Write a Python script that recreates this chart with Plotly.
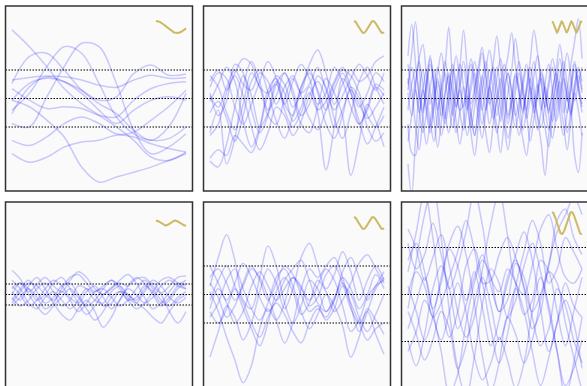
import numpy as np
import plotly.graph_objects as go
from plotly.subplots import make_subplots

# ---- data: sampled curves per panel (values in data units) ----
panel1 = [
    [2.41, 1.82, 1.12, 0.35, -0.18, -0.59, -1.0, -1.47, -2.06, -2.18, -1.88],
    [0.53, 1.47, 1.59, 1.0, 0.29, -0.18, -0.53, -1.12, -1.47, -1.0, 0.18],
    [-0.88, -1.0, 0.06, 1.12, 1.94, 1.82, 0.53, -1.12, -1.94, -1.71, -1.24],
    [-0.41, 0.18, 1.12, 1.82, 1.59, 0.53, -0.65, -1.24, -1.47, -1.41, -1.0],
    [-0.06, -0.29, -0.76, -1.35, -2.41, -2.94, -2.76, -2.59, -2.41, -2.18, -1.94],
    [-1.47, -1.65, -1.35, -0.88, -0.65, -0.88, -1.24, -1.18, -0.76, -0.29, 0.29],
    [-1.94, -2.24, -2.06, -1.71, -1.53, -1.47, -1.29, -1.35, -1.59, -1.76, -1.88],
    [0.65, 0.74, 0.79, 0.76, 0.65, 0.47, 0.39, 0.65, 0.82, 0.71, 0.74],
    [0.35, -0.06, -0.35, -0.29, -0.35, -0.59, -0.65, -0.06, 0.35, 0.53, 0.59],
    [-0.06, 0.53, 0.71, 0.59, 0.29, -0.06, 0.06, 0.88, 1.18, 0.82, 0.86],
    [-0.53, 0.41, 0.76, 0.59, 0.18, -0.41, -0.88, -0.41, -0.06, 0.06, -0.06],
]
panel2 = [
    [0.6, 1.0, 0.3, 0.9, 1.4, 1.2, 0.4, 0.2, 0.8, 0.5, -0.3, 0.2, 1.2, 1.7, 0.9, -0.2, 0.5, 1.0, 0.6, 0.8, 1.3, 1.5],
    [-2.2, -2.4, -1.6, -0.3, 0.8, 0.1, -1.0, -0.5, 0.6, 0.2, -0.8, -0.3, 0.4, -0.5, -2.5, -1.0, 0.7, 0.2, -0.9, -0.3, 0.5, 0.3],
    [-1.2, -0.4, -2.3, -1.4, 0.4, 1.3, 0.6, -0.4, 0.1, 0.9, 0.3, -0.6, -0.2, 0.8, 0.4, -0.7, -1.4, -0.5, 0.6, 1.1, 0.4, -0.2],
    [0.2, -0.6, -0.1, 1.2, 0.9, -0.4, -1.2, -0.6, 0.5, 0.9, 0.1, -0.9, -1.2, -0.3, 0.7, 0.2, -0.6, -2.7, -1.5, -0.2, -0.8, -1.7],
    [0.8, 0.4, -0.5, -1.1, -0.2, 0.9, 0.4, -0.6, -0.9, 0.0, 0.7, 0.2, 0.5, 1.1, 0.3, -0.4, 0.1, 0.7, 1.2, 0.8, 0.3, 0.9],
    [-0.1, 0.5, 1.1, 0.6, -0.8, -1.7, -1.0, 0.3, 0.7, -0.2, -0.6, 0.4, 1.0, 0.2, -0.9, -1.4, -0.6, 0.4, 0.0, -1.0, -1.5, -1.2],
    [0.4, 0.9, 0.7, -0.3, -0.9, -0.2, 0.6, 1.3, 0.7, -0.4, -1.0, -0.5, 0.2, -0.4, -0.1, 0.6, 1.1, 0.4, -0.3, 0.2, 0.9, 0.6],
    [-1.3, -0.9, 0.2, 0.8, 0.1, -1.0, -1.8, -1.2, -0.3, -0.6, -1.3, -0.8, 0.1, 0.6, 0.0, -1.0, -0.4, 0.3, -0.2, -0.7, -0.3, 0.2],
    [0.1, -0.3, 0.4, 1.0, 0.5, 0.3, 0.9, 0.6, -0.2, 0.4, 0.8, 0.1, -0.7, -1.1, -0.4, 0.5, 1.0, 0.8, 0.2, -0.6, -1.0, -0.6],
    [-0.5, -0.1, -0.7, -1.5, -0.6, 0.6, 1.0, 0.2, -0.8, -1.4, -0.6, 0.4, 0.9, 0.3, -0.4, 0.3, 0.9, 0.2, -0.8, -1.6, -1.0, -0.3],
    [-2.1, -1.8, -2.0, -1.3, -1.6, -1.9, -1.1, 0.1, 0.5, -0.2, 0.6, 1.2, 0.7, -0.2, 0.2, 1.1, 0.6, -0.3, -0.9, -0.4, 0.4, 0.1],
]
panel3 = [
    [0.5, 1.6, 2.7, 1.2, -0.4, 0.6, 1.5, 0.3, -1.0, -0.2, 0.9, 0.4, -0.6, 0.2, 1.1, 2.4, 1.0, -0.5, -1.3, -0.2, 0.8, 0.1, -0.9, -0.3, 0.7, 1.4, 0.5, -0.7, -0.1, 0.9, 0.2, -1.1, -0.5, 0.6, 1.3, 0.4, -0.4, 0.5, 1.2, 0.3, -0.8, -0.2, 0.7, 0.1, -0.6, 0.4, 1.1, 0.6],
    [-2.3, -3.4, -1.5, 0.2, 1.0, 0.1, -0.8, -1.5, -0.6, 0.5, 1.3, 0.6, -0.3, -1.2, -0.5, 0.4, -0.2, -1.0, -0.3, 0.8, 1.6, 0.7, -0.2, 0.4, 1.1, 0.3, -0.6, -1.4, -0.7, 0.2, 0.9, 0.1, -0.7, 0.0, 0.8, 1.5, 0.6, -0.3, -1.1, -0.4, 0.5, 1.0, 0.2, -0.5, 0.3, 1.2, 0.5, -0.2],
    [1.2, 0.3, -0.9, -1.8, -0.7, 0.5, 1.4, 0.6, -0.4, 0.3, 1.1, 2.5, 0.8, -0.3, 0.4, 1.0, 0.1, -1.2, -2.0, -0.9, 0.2, 1.0, 1.7, 0.9, 0.0, -0.8, 0.1, 0.9, 0.3, -0.5, -1.3, -0.6, 0.3, 1.1, 0.4, -0.6, -1.0, -0.2, 0.6, 1.4, 0.8, -0.1, -0.9, -1.8, -0.7, 0.2, -0.4, -1.3],
    [0.2, -0.6, 0.4, 1.3, 0.5, -0.5, -1.2, -0.3, 0.6, -0.1, -0.9, -0.2, 0.7, 1.5, 0.6, -0.3, 0.5, 1.2, 0.3, -0.6, -1.4, -0.5, 0.4, -0.2, -1.0, -1.9, -0.8, 0.2, 1.0, 2.1, 1.2, 0.3, -0.4, 0.4, -0.3, -1.1, -0.4, 0.4, -0.1, -0.8, -0.2, 0.7, 1.3, 0.5, -0.3, -2.0, -2.6, -1.2],
    [-0.4, 0.5, 1.0, 0.2, -0.7, -1.6, -0.8, 0.1, 0.9, 1.6, 0.7, -0.2, -1.0, -0.4, 0.3, -0.5, -1.3, -0.6, 0.2, 1.0, 0.4, -0.4, 0.3, 1.2, 2.2, 1.1, 0.2, -0.6, 0.1, 0.8, 0.2, -0.5, 0.4, 1.3, 2.4, 1.6, 0.5, -0.3, 0.4, 1.1, 0.4, -0.5, -1.3, -0.5, 0.3, 1.0, 0.3, -0.3],
    [1.5, 2.6, 1.3, 0.1, -0.5, 0.4, 1.2, 0.5, -0.4, -1.3, -0.6, 0.3, 1.0, 0.3, -0.5, -1.1, -0.3, 0.6, 1.3, 0.6, -0.3, -1.2, -1.9, -0.9, 0.0, 0.7, -0.1, -0.9, -0.2, 0.5, 1.3, 0.5, -0.5, -1.5, -0.7, 0.2, 1.0, 0.4, -0.5, 0.2, 0.9, 0.3, -0.5, 0.3, 1.2, 2.0, 2.8, 1.4],
    [-0.9, -1.9, -2.0, -0.8, 0.3, -0.3, -1.0, -0.2, 0.7, 0.0, -0.7, 0.2, 1.2, 0.5, -0.4, -0.2, 0.6, 1.4, 0.7, -0.1, -0.9, -0.3, 0.5, 1.1, 0.4, -0.3, -1.0, -1.8, -0.9, 0.0, -0.6, -1.4, -2.0, -1.0, -0.2, 0.5, -0.2, -1.0, -1.7, -0.7, 0.1, 0.6, -0.2, -1.2, -0.4, 0.5, 1.0, 0.3],
    [0.7, 0.0, 0.6, 1.4, 1.9, 0.8, -0.2, 0.5, 1.1, 0.4, -0.5, -1.2, -0.4, 0.5, 1.2, 0.4, -0.4, 0.3, 0.9, 0.2, -0.4, 0.4, 1.0, 0.3, -0.6, 0.1, 0.8, 1.5, 2.3, 1.2, 0.4, -0.4, 0.2, 0.7, 0.1, -0.7, -1.6, -2.7, -1.3, -0.2, 0.6, 1.4, 0.7, -0.1, 0.6, 1.3, 0.4, -0.5],
    [-1.5, -0.6, 0.3, -0.4, -1.2, -0.5, 0.4, 1.0, 0.2, -0.6, 0.2, 0.8, 0.1, -0.8, -1.6, -0.8, 0.1, -0.6, -1.3, -0.4, 0.6, 1.3, 0.5, -0.4, -1.2, -0.5, 0.4, 0.9, 0.2, -0.6, -0.1, 0.6, 1.2, 0.5, -0.3, 0.3, 0.9, 0.2, -0.6, -1.4, -0.6, 0.2, 0.9, 1.6, 0.7, -0.1, 0.5, 1.1],
    [0.3, 1.1, 0.4, -0.5, 0.3, 1.0, 0.2, -0.7, -1.7, -0.8, 0.1, 0.9, 0.3, -0.3, 0.6, 1.3, 0.6, -0.2, 0.4, 1.1, 1.8, 0.9, 0.0, -0.7, -0.1, 0.5, 1.2, 0.5, -0.3, -1.0, -0.4, 0.4, 1.0, 0.3, -0.5, 0.1, 0.7, 0.2, -0.4, 0.3, 1.0, 1.9, 1.0, 0.1, -0.5, 0.2, 0.8, 0.2],
]
panel4 = [
    [0.85, 0.55, 0.1, 0.35, 0.6, 0.3, 0.1, 0.5, 0.8, 0.6, 0.2, 0.0, 0.25, 0.4, 0.3, 0.55, 0.6, 0.3, 0.05, 0.3, 0.6, 0.65],
    [0.1, -0.2, 0.3, 0.6, 0.2, -0.3, -0.7, -0.9, -0.5, -0.2, -0.6, -1.15, -0.8, -0.2, 0.2, 0.0, -0.3, -0.1, 0.3, 0.5, 0.3, 0.2],
    [-0.2, 0.2, 0.5, 0.1, -0.3, -0.1, 0.3, 0.4, 0.0, -0.4, -0.2, 0.2, 0.5, 0.3, -0.1, -0.3, 0.1, 0.4, 0.0, -0.6, -1.0, -0.6],
    [0.3, 0.0, -0.4, -0.2, 0.2, 0.5, 0.3, -0.1, -0.3, 0.1, 0.3, -0.1, -0.5, -0.2, 0.3, 0.6, 0.4, 0.0, -0.4, -0.2, 0.2, 0.4],
    [-0.4, -0.1, 0.2, -0.1, -0.5, -0.3, 0.1, -0.2, -0.6, -0.3, 0.1, 0.2, -0.1, -0.4, -0.2, 0.2, 0.5, 0.2, -0.2, -0.4, -0.1, 0.1],
    [0.0, 0.4, 0.2, -0.2, 0.0, 0.4, 0.6, 0.2, -0.3, -0.7, -0.4, 0.0, 0.2, 0.5, 0.7, 0.4, -0.1, -0.5, -0.3, 0.1, 0.4, 0.3],
    [0.5, 0.2, -0.3, -0.5, -0.1, 0.1, -0.2, -0.5, -0.2, 0.2, 0.0, -0.4, -0.3, 0.1, 0.0, -0.3, -0.5, -0.8, -1.0, -0.6, -0.2, 0.0],
    [-0.1, -0.4, -0.2, 0.2, 0.4, 0.1, -0.4, -0.2, 0.3, 0.2, -0.2, -0.3, 0.1, 0.3, 0.0, -0.2, 0.2, 0.5, 0.3, -0.1, -0.3, -0.1],
    [0.2, 0.4, 0.0, -0.4, -0.7, -0.4, -0.1, 0.2, -0.1, -0.5, -0.9, -0.6, -0.1, 0.1, -0.2, -0.1, 0.3, 0.1, -0.3, -0.1, 0.3, 0.5],
    [-0.3, 0.1, 0.4, 0.3, 0.0, -0.2, 0.2, 0.6, 0.7, 0.4, 0.1, 0.3, 0.5, 0.2, -0.2, -0.5, -0.3, 0.1, 0.5, 0.6, 0.4, 0.2],
]
panel5 = [
    [0.3, 1.3, 2.1, 1.2, -0.2, -0.5, 0.6, 1.7, 1.0, -0.3, -1.0, -0.4, 0.5, 0.2, -0.6, -0.2, 0.8, 1.3, 0.6, -0.2, 0.3, 0.8],
    [-2.2, -1.3, -0.4, -0.8, -1.6, -1.0, 0.1, 0.9, 0.4, -0.5, 0.2, 1.3, 1.8, 1.0, 0.2, 0.7, 1.5, 0.8, -0.2, 0.5, 1.0, 0.5],
    [0.1, -0.6, -1.5, -2.3, -3.1, -2.5, -1.2, -0.5, -0.9, -0.3, 0.6, 0.3, -0.4, -0.1, 0.7, 1.0, 0.4, -0.5, -1.0, -0.6, -1.4, -2.1],
    [0.6, 0.9, 0.4, -0.2, 0.3, 0.9, 0.6, -0.1, -0.9, -1.7, -1.0, 0.2, 0.9, 0.6, 1.0, 1.3, 0.6, -0.4, -1.3, -0.6, 0.2, 0.6],
    [-0.8, -0.3, 0.5, 0.9, 0.2, -0.5, -0.9, -0.3, 0.6, 0.9, 0.3, -0.6, -1.2, -0.7, 0.0, -0.4, -1.1, -2.2, -1.5, -0.5, -0.9, -1.4],
    [-0.2, 0.5, 1.0, 0.3, -0.5, -1.2, -1.8, -1.0, 0.1, 0.6, 0.1, -0.7, -0.3, 0.5, 0.1, -0.6, -0.2, 0.4, 1.1, 1.4, 0.9, 0.4],
    [0.4, -0.1, -0.8, -0.4, 0.4, 1.0, 0.5, -0.2, 0.4, 1.0, 0.7, 0.0, -0.6, -0.4, -0.9, -0.5, 0.3, 0.0, -0.8, -1.3, -0.7, 0.0],
    [-0.6, -1.0, -0.5, 0.2, -0.3, -1.0, -1.5, -0.8, -0.3, -0.7, -1.3, -1.7, -1.0, -0.5, -0.8, -0.2, 0.6, 0.2, -0.5, 0.0, 0.7, 0.2],
    [1.0, 0.4, -0.2, 0.4, 1.1, 0.6, -0.1, -0.6, -0.2, 0.5, 0.9, 1.2, 0.5, -0.3, -0.6, -0.1, 0.4, -0.3, -1.0, -1.6, -1.2, -1.0],
    [-0.5, 0.2, -0.3, -1.0, -0.6, 0.3, 0.8, 0.3, -0.2, 0.2, 0.6, 0.2, -0.2, 0.3, 0.9, 0.5, -0.4, -1.3, -0.9, -0.1, 0.3, 0.5],
]
panel6 = [
    [0.8, 2.2, 3.6, 2.0, -0.2, -1.5, -0.6, 1.0, 1.6, 0.4, -1.2, -2.4, -1.4, 0.3, 1.5, 2.6, 1.8, 0.4, 0.9, 2.0, 1.5, 0.9],
    [-0.5, 1.2, 2.8, 3.8, 2.0, -0.6, -2.6, -3.6, -2.2, -0.3, 0.9, 0.4, -0.8, -0.2, 1.0, 1.8, 0.8, -0.6, -2.0, -3.2, -2.6, -1.6],
    [2.3, 1.6, 0.5, 1.3, 2.1, 1.0, -0.6, -1.5, -0.8, 0.9, 2.5, 3.6, 2.1, 0.4, 0.0, 1.0, 2.3, 2.8, 1.6, 0.6, 0.4, 0.9],
    [-1.2, -0.3, 0.6, -0.6, -2.0, -3.5, -2.8, -1.0, 0.4, 1.2, 0.6, -0.6, -0.2, 1.1, 0.6, -0.8, -1.8, -1.2, 0.2, -0.4, -1.6, -2.4],
    [0.3, -0.6, -1.6, -0.8, 0.6, 1.8, 2.4, 1.4, -0.3, -2.2, -3.4, -2.4, -0.8, -1.4, -2.4, -1.6, -0.2, 1.0, 2.6, 3.0, 2.0, 1.4],
    [1.2, 1.8, 0.8, -0.5, 0.4, 1.6, 1.0, -0.2, 0.6, 1.4, 0.3, -0.6, 0.4, 1.4, 2.2, 1.2, -0.5, -2.0, -1.0, 0.4, -0.4, -0.8],
    [-2.0, -1.3, -0.2, -0.8, -1.6, -0.6, 0.4, -0.6, -2.2, -3.0, -2.4, -1.5, -2.3, -3.3, -2.4, -0.6, 0.6, -0.4, -2.0, -3.6, -2.4, -0.8],
    [0.0, 0.8, 0.3, -0.8, -0.3, 0.6, 1.5, 2.6, 1.6, 0.4, 0.5, 1.4, 2.0, 1.3, 0.3, -0.6, 0.0, 1.1, 2.2, 2.8, 3.4, 2.8],
    [-0.6, -1.4, -2.3, -1.6, -0.6, -1.2, -2.6, -1.8, -0.3, 0.6, -0.4, -1.6, -0.8, 0.2, -0.6, -2.0, -3.2, -2.2, -1.0, -0.2, -1.0, -2.6],
    [1.8, 0.9, 1.4, 2.5, 1.4, 0.2, 1.0, 2.2, 3.6, 2.4, 0.6, 0.1, 0.9, 0.4, -0.7, -0.2, 1.2, 0.8, -0.6, -1.8, -0.6, 0.6],
    [-1.6, -2.5, -1.4, 0.2, 1.0, 0.2, -1.2, -0.4, 0.8, -0.5, -1.8, -0.9, 0.6, 1.2, 0.2, -1.2, -0.6, 0.8, 0.4, -1.0, -2.2, -3.4],
]
panels = [panel1, panel2, panel3, panel4, panel5, panel6]
panel_mean = [0, 0, 0, 0, 0, 0]
panel_std = [1.0, 1.0, 1.0, 0.37, 1.0, 1.65]
# corner glyph (period and amplitude in pixels)
icon_period_px = [42, 19, 9.7, 19, 19, 19.5]
icon_amp_px = [6, 6, 5.5, 2.5, 6, 11]

# ---- layout geometry ----
W, H = 587, 386
col_left = [5.5, 203.5, 401.5]
row_top = [6, 202]
PW, PH = 187, 185
XPAD = 6.5
XSCALE = PW - 2 * XPAD          # px per unit x
YHALF = 3.25
YSCALE = PH / (2 * YHALF)       # px per unit y

CURVE = "rgba(0,0,255,0.2)"
ICON = "rgb(205,185,100)"

fig = make_subplots(rows=2, cols=3)

for i, curves in enumerate(panels):
    r, c = i // 3 + 1, i % 3 + 1
    for y in curves:
        x = np.linspace(0, 1, len(y))
        fig.add_trace(go.Scatter(x=x, y=y, mode="lines",
                                 line=dict(color=CURVE, width=1.5, shape="spline", smoothing=1.0),
                                 hoverinfo="skip", showlegend=False), row=r, col=c)
    # corner glyph
    x0 = (150.5 - XPAD) / XSCALE
    gx = np.linspace(0, 30, 80)
    yc = YHALF - 21 / YSCALE
    gy = yc + (icon_amp_px[i] / YSCALE) * np.cos(2 * np.pi * gx / icon_period_px[i])
    fig.add_trace(go.Scatter(x=x0 + gx / XSCALE, y=gy, mode="lines",
                             line=dict(color=ICON, width=2),
                             hoverinfo="skip", showlegend=False), row=r, col=c)
    # axes geometry
    left = col_left[c - 1]
    right = min(left + PW, W)
    top = row_top[r - 1]
    bottom = min(top + PH, H)
    fig.update_xaxes(domain=[left / W, right / W],
                     range=[-XPAD / XSCALE, (right - left - XPAD) / XSCALE],
                     visible=False, row=r, col=c)
    fig.update_yaxes(domain=[1 - bottom / H, 1 - top / H],
                     range=[YHALF - (bottom - top) / YSCALE, YHALF],
                     visible=False, row=r, col=c)
    axn = "" if i == 0 else str(i + 1)
    for k in (-1, 0, 1):
        yv = panel_mean[i] + k * panel_std[i]
        fig.add_shape(type="line", xref=f"x{axn} domain", yref=f"y{axn}",
                      x0=0, x1=1, y0=yv, y1=yv,
                      line=dict(color="black", width=1.1, dash="1.5px,1.5px"))
    # frame
    fig.add_shape(type="rect", xref="paper", yref="paper",
                  x0=left / W, x1=(left + PW) / W,
                  y0=1 - (top + PH) / H, y1=1 - top / H,
                  line=dict(color="#333333", width=1.5), fillcolor="rgba(0,0,0,0)",
                  layer="above")

fig.update_layout(width=W, height=H, margin=dict(l=0, r=0, t=0, b=0),
                  paper_bgcolor="white", plot_bgcolor="#fafafa",
                  showlegend=False)

fig.write_html("out.html",
               config={"displayModeBar": False, "staticPlot": True},
               post_script="document.body.style.margin='0';document.body.style.overflow='hidden';")
